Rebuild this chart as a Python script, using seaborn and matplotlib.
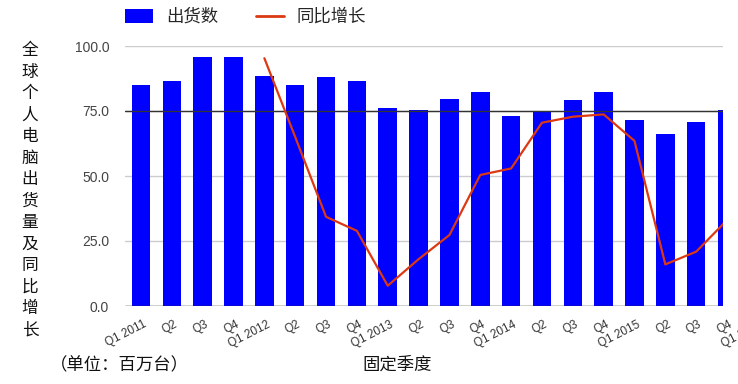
import numpy as np
import pandas as pd
import matplotlib
matplotlib.use("Agg")
import matplotlib.pyplot as plt
from matplotlib.patches import Patch
from matplotlib.lines import Line2D
import seaborn as sns

# ---------------- data ----------------
quarters = ["2011Q1", "2011Q2", "2011Q3", "2011Q4",
            "2012Q1", "2012Q2", "2012Q3", "2012Q4",
            "2013Q1", "2013Q2", "2013Q3", "2013Q4",
            "2014Q1", "2014Q2", "2014Q3", "2014Q4",
            "2015Q1", "2015Q2", "2015Q3", "2015Q4"]
tick_labels = ["Q1 2011", "Q2", "Q3", "Q4",
               "Q1 2012", "Q2", "Q3", "Q4",
               "Q1 2013", "Q2", "Q3", "Q4",
               "Q1 2014", "Q2", "Q3", "Q4",
               "Q1 2015", "Q2", "Q3", "Q4",
               "Q1 2016"]
shipments = [85.0, 86.7, 95.6, 95.6,
             88.5, 85.0, 88.0, 86.7,
             76.3, 75.4, 79.6, 82.3,
             73.2, 74.6, 79.2, 82.3,
             71.5, 66.0, 70.6, 75.4]
growth_quarters = quarters[4:]
growth = [95.3, 65.0, 34.3, 28.9,
          7.8, 18.0, 27.3, 50.4,
          52.9, 70.5, 72.8, 73.7,
          63.5, 16.0, 20.9, 33.0]
yticks = [0, 25, 50, 75, 100]

series_names = ["出货数", "同比增长"]
x_title = "固定季度"
unit_note = "（单位：百万台）"
y_title = "全球个人电脑出货量及同比增长"

BAR_COLOR = "#0000ff"
LINE_COLOR = "#dc3912"

# ---------------- style ----------------
sns.set_style("white")
plt.rcParams["font.family"] = ["Liberation Sans", "Noto Sans CJK SC", "DejaVu Sans"]
CJK = ["Noto Sans CJK SC", "DejaVu Sans"]

W, H = 738, 384
fig = plt.figure(figsize=(W / 100, H / 100), dpi=100)
left_px, right_px, top_px, bottom_px = 124.5, 723, 46, 306
ax = fig.add_axes([left_px / W, 1 - bottom_px / H,
                   (right_px - left_px) / W, (bottom_px - top_px) / H])

df_bar = pd.DataFrame({"quarter": quarters, "shipments": shipments})
sns.barplot(data=df_bar, x="quarter", y="shipments", color=BAR_COLOR,
            saturation=1, width=0.6, ax=ax, zorder=2, linewidth=0)

pos = [quarters.index(q) for q in growth_quarters]
df_line = pd.DataFrame({"pos": pos, "growth": growth})
sns.lineplot(data=df_line, x="pos", y="growth", color=LINE_COLOR,
             linewidth=1.6, ax=ax, zorder=4)

ax.set_xlim(-0.535, 18.87)
ax.set_ylim(0, 100)
ax.set_yticks(yticks)
ax.set_yticklabels([f"{v:.1f}" for v in yticks])
ax.set_xticks([])
ax.set_xlabel("")
ax.set_ylabel("")
for s in ax.spines.values():
    s.set_visible(False)
ax.set_axisbelow(True)
ax.grid(axis="y", color="#cccccc", linewidth=1)
ax.grid(axis="x", visible=False)
ax.axhline(0, color="#333333", linewidth=1, zorder=3)
ax.axhline(75, color="#333333", linewidth=1, zorder=3)
ax.tick_params(axis="y", length=0, labelsize=10, labelcolor="#444444", pad=11)

for i, lab in enumerate(tick_labels):
    ax.annotate(lab, xy=(i, 0), xycoords=("data", "axes fraction"),
                xytext=(1.5, -9), textcoords="offset points",
                rotation=27, rotation_mode="anchor", ha="right", va="top",
                fontsize=8.5, color="#333333", annotation_clip=False)

# legend
handles = [Patch(facecolor=BAR_COLOR, edgecolor="none"),
           Line2D([0], [0], color=LINE_COLOR, linewidth=2)]
fig.legend(handles, series_names, loc="upper left",
           bbox_to_anchor=(125 / W, 1 - 8 / H), ncol=2, frameon=False,
           prop={"family": CJK, "size": 12.5}, handlelength=1.6,
           handleheight=0.86, handletextpad=0.75, columnspacing=2.2,
           borderpad=0, borderaxespad=0)

# axis titles
fig.text(397 / W, 1 - 365 / H, x_title, ha="center", va="center",
         fontsize=12.5, family=CJK, color="#111111")
fig.text(50 / W, 1 - 365 / H, unit_note, ha="left", va="center",
         fontsize=12.5, family=CJK, color="#111111")
y0, step = 50.5, 21.54
for k, ch in enumerate(y_title):
    fig.text(30 / W, 1 - (y0 + k * step) / H, ch, ha="center", va="center",
             fontsize=12, family=CJK, color="#111111")

fig.savefig("out.png", dpi=100)
